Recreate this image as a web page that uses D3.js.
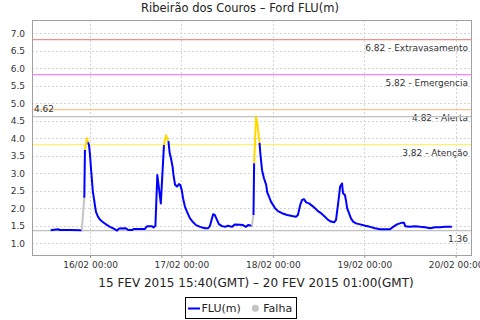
<!DOCTYPE html>
<html>
<head>
<meta charset="utf-8">
<script src="https://cdn.jsdelivr.net/npm/d3@7"></script>
<style>
  body { margin: 0; background: #fff; }
  svg { display: block; font-family: "DejaVu Sans", sans-serif; }
</style>
</head>
<body>
<div id="chart"></div>
<script>
// Leituras (hora local) e nivel FLU(m)
const times = [
  '15/02 13:40', '15/02 15:35', '15/02 16:05', '15/02 18:45', '15/02 21:50', '15/02 22:30',
  '15/02 22:40', '15/02 23:00', '15/02 23:10', '15/02 23:30', '15/02 23:45', '16/02 00:00',
  '16/02 00:15', '16/02 00:30', '16/02 00:45', '16/02 01:05', '16/02 01:20', '16/02 01:35',
  '16/02 02:05', '16/02 02:40', '16/02 03:25', '16/02 04:30', '16/02 05:15', '16/02 06:20',
  '16/02 07:05', '16/02 07:35', '16/02 09:25', '16/02 10:00', '16/02 11:00', '16/02 11:35',
  '16/02 14:25', '16/02 15:00', '16/02 16:15', '16/02 16:40', '16/02 17:10', '16/02 17:40',
  '16/02 18:35', '16/02 19:25', '16/02 19:40', '16/02 19:55', '16/02 20:35', '16/02 20:55',
  '16/02 21:15', '16/02 21:40', '16/02 21:55', '16/02 22:20', '16/02 22:50', '16/02 23:20',
  '16/02 23:40', '17/02 00:05', '17/02 00:25', '17/02 00:55', '17/02 01:30', '17/02 02:15',
  '17/02 03:05', '17/02 03:50', '17/02 04:55', '17/02 06:10', '17/02 07:00', '17/02 07:30',
  '17/02 07:55', '17/02 08:20', '17/02 08:45', '17/02 09:20', '17/02 09:50', '17/02 10:40',
  '17/02 11:25', '17/02 12:15', '17/02 13:15', '17/02 14:05', '17/02 15:25', '17/02 16:10',
  '17/02 16:55', '17/02 17:30', '17/02 18:30', '17/02 18:55', '17/02 19:05', '17/02 19:35',
  '17/02 20:00', '17/02 20:15', '17/02 20:30', '17/02 20:45', '17/02 21:10', '17/02 21:40',
  '17/02 22:15', '17/02 22:30', '17/02 23:00', '17/02 23:30', '18/02 00:05', '18/02 00:35',
  '18/02 01:20', '18/02 02:25', '18/02 03:45', '18/02 05:05', '18/02 06:05', '18/02 06:35',
  '18/02 07:10', '18/02 07:40', '18/02 08:10', '18/02 08:45', '18/02 09:30', '18/02 10:20',
  '18/02 11:05', '18/02 11:50', '18/02 12:40', '18/02 13:40', '18/02 14:30', '18/02 15:15',
  '18/02 16:05', '18/02 16:35', '18/02 17:05', '18/02 17:40', '18/02 18:10', '18/02 18:25',
  '18/02 18:55', '18/02 19:15', '18/02 19:30', '18/02 20:00', '18/02 20:30', '18/02 21:05',
  '18/02 21:50', '18/02 22:55', '19/02 00:15', '19/02 01:30', '19/02 02:50', '19/02 04:10',
  '19/02 06:45', '19/02 07:35', '19/02 08:35', '19/02 09:55', '19/02 10:25', '19/02 10:45',
  '19/02 12:00', '19/02 13:20', '19/02 14:40', '19/02 16:00', '19/02 17:15', '19/02 18:35',
  '19/02 19:55', '19/02 21:15', '19/02 23:00'
];
const values = [
  1.37, 1.40, 1.38, 1.38, 1.37, 2.30,
  3.67, 3.88, 4.00, 3.89, 3.79, 3.52,
  3.14, 2.81, 2.47, 2.24, 2.05, 1.89,
  1.76, 1.67, 1.60, 1.52, 1.47, 1.41,
  1.36, 1.42, 1.43, 1.38, 1.38, 1.41,
  1.41, 1.49, 1.49, 1.45, 1.50, 2.95,
  2.14, 3.81, 3.95, 4.09, 3.92, 3.57,
  3.43, 3.19, 2.95, 2.67, 2.62, 2.69,
  2.67, 2.52, 2.29, 2.05, 1.89, 1.71,
  1.60, 1.52, 1.47, 1.43, 1.43, 1.50,
  1.67, 1.83, 1.81, 1.67, 1.55, 1.49,
  1.47, 1.50, 1.47, 1.54, 1.53, 1.52,
  1.47, 1.52, 1.50, 1.81, 3.29, 4.62,
  4.38, 4.10, 3.87, 3.52, 3.09, 2.86,
  2.67, 2.46, 2.33, 2.19, 2.09, 2.00,
  1.92, 1.86, 1.81, 1.78, 1.76, 1.81,
  2.09, 2.24, 2.26, 2.17, 2.14, 2.07,
  2.00, 1.92, 1.86, 1.76, 1.67, 1.62,
  1.60, 1.67, 2.09, 2.62, 2.71, 2.43,
  2.38, 2.19, 2.00, 1.86, 1.71, 1.62,
  1.57, 1.54, 1.50, 1.47, 1.43, 1.40,
  1.40, 1.47, 1.54, 1.59, 1.59, 1.49,
  1.47, 1.49, 1.47, 1.46, 1.43, 1.46,
  1.46, 1.47, 1.47
];
// leituras que chegam apos uma falha (segmento cinza)
const falhas = ['15/02 22:30', '17/02 18:55'];

// cotas de referencia
const levelValues = [6.82, 5.82, 4.82, 3.82];
const levelNames = ['Extravasamento', 'Emergencia', 'Alerta', 'Atenção'];
const levelColors = ['#e88f8f', '#ff80ff', '#f8c48c', '#fff070'];

const yTicks = [1.0, 1.5, 2.0, 2.5, 3.0, 3.5, 4.0, 4.5, 5.0, 5.5, 6.0, 6.5, 7.0];
const xTicks = ['16/02 00:00', '17/02 00:00', '18/02 00:00', '19/02 00:00', '20/02 00:00'];

const title = 'Ribeirão dos Couros – Ford FLU(m)';
const xTitle = '15 FEV 2015 15:40(GMT) – 20 FEV 2015 01:00(GMT)';

const W = 480, H = 320;
const plot = { left: 32, right: 472, top: 20, bottom: 256 };

const parse = s => d3.utcParse('%Y/%d/%m %H:%M')('2015/' + s);

const data = times.map((t, i) => ({
  t: parse(t),
  v: values[i],
  falha: falhas.includes(t)
}));

const x = d3.scaleUtc()
  .domain([parse('15/02 08:46'), parse('20/02 04:17')])
  .range([plot.left, plot.right]);
const y = d3.scaleLinear()
  .domain([0.637, 7.38])
  .range([plot.bottom, plot.top]);

const svg = d3.select('#chart').append('svg')
  .attr('width', W)
  .attr('height', H);

svg.append('rect').attr('width', W).attr('height', H).attr('fill', '#fff');

// title
svg.append('text')
  .attr('x', 240).attr('y', 12)
  .attr('text-anchor', 'middle')
  .attr('font-size', 11.5)
  .attr('fill', '#222')
  .text(title);

// grid
const grid = svg.append('g').attr('stroke', '#d4d4d4').attr('stroke-dasharray', '2,2');
yTicks.forEach(v => {
  grid.append('line')
    .attr('x1', plot.left).attr('x2', plot.right)
    .attr('y1', Math.round(y(v)) + 0.5).attr('y2', Math.round(y(v)) + 0.5);
});
xTicks.forEach(s => {
  grid.append('line')
    .attr('y1', plot.top).attr('y2', plot.bottom)
    .attr('x1', Math.round(x(parse(s))) + 0.5).attr('x2', Math.round(x(parse(s))) + 0.5);
});

// axes
const yAxis = svg.append('g')
  .attr('transform', `translate(${plot.left},0)`)
  .call(d3.axisLeft(y).tickValues(yTicks).tickFormat(d3.format('.1f')).tickSize(0).tickPadding(7));
const xAxis = svg.append('g')
  .attr('transform', `translate(0,${plot.bottom})`)
  .call(d3.axisBottom(x).tickValues(xTicks.map(parse)).tickFormat(d3.utcFormat('%d/%m %H:%M')).tickSize(2).tickPadding(4));
[yAxis, xAxis].forEach(a => {
  a.select('.domain').remove();
  a.selectAll('line').attr('stroke', '#999');
  a.selectAll('text').attr('font-family', '"DejaVu Sans", sans-serif').attr('font-size', 9).attr('fill', '#333');
});

// plot border
svg.append('rect')
  .attr('x', plot.left + 0.5).attr('y', plot.top + 0.5)
  .attr('width', plot.right - plot.left - 1).attr('height', plot.bottom - plot.top - 1)
  .attr('fill', 'none').attr('stroke', '#a0a0a0');

// threshold lines
levelValues.forEach((v, i) => {
  svg.append('line')
    .attr('x1', plot.left + 1).attr('x2', plot.right - 1)
    .attr('y1', y(v)).attr('y2', y(v))
    .attr('stroke', levelColors[i]).attr('stroke-width', 1.3);
  svg.append('text')
    .attr('x', 468).attr('y', y(v) + 11.5)
    .attr('text-anchor', 'end')
    .attr('font-size', 9)
    .attr('fill', '#333')
    .text(`${v.toFixed(2)} - ${levelNames[i]}`);
});

// max / min lines
const vMax = d3.max(values), vMin = d3.min(values);
[vMax, vMin].forEach(v => {
  svg.append('line')
    .attr('x1', plot.left + 1).attr('x2', plot.right - 1)
    .attr('y1', y(v)).attr('y2', y(v))
    .attr('stroke', '#c0c0c0').attr('stroke-width', 1.3);
});
svg.append('text')
  .attr('x', 34).attr('y', y(vMax) - 4.3)
  .attr('font-size', 9).attr('fill', '#333')
  .text(vMax.toFixed(2));
svg.append('text')
  .attr('x', 468).attr('y', y(vMin) + 11.6)
  .attr('text-anchor', 'end')
  .attr('font-size', 9).attr('fill', '#333')
  .text(vMin.toFixed(2));

// series: segment colour follows the point it ends on
const segColor = d => d.falha ? '#c4c4c4' : (d.v >= levelValues[3] ? '#ffd800' : '#0000ff');
const line = d3.line().x(d => x(d.t)).y(d => y(d.v));
const runs = [];
for (let i = 1; i < data.length; i++) {
  const c = segColor(data[i]);
  const last = runs[runs.length - 1];
  if (last && last.color === c) last.pts.push(data[i]);
  else runs.push({ color: c, pts: [data[i - 1], data[i]] });
}
svg.append('g').selectAll('path')
  .data(runs)
  .join('path')
  .attr('d', r => line(r.pts))
  .attr('fill', 'none')
  .attr('stroke', r => r.color)
  .attr('stroke-width', 2)
  .attr('stroke-linejoin', 'round');

// x axis title
svg.append('text')
  .attr('x', 256).attr('y', 286.5)
  .attr('text-anchor', 'middle')
  .attr('font-size', 12)
  .attr('fill', '#222')
  .text(xTitle);

// legend
const lg = svg.append('g');
lg.append('rect')
  .attr('x', 185.5).attr('y', 297.5).attr('width', 111).attr('height', 21)
  .attr('fill', '#fff').attr('stroke', '#000');
lg.append('line')
  .attr('x1', 188).attr('x2', 200).attr('y1', 308.5).attr('y2', 308.5)
  .attr('stroke', '#0000ff').attr('stroke-width', 2);
lg.append('text')
  .attr('x', 201.5).attr('y', 312)
  .attr('font-size', 11).attr('fill', '#222')
  .text('FLU(m)');
lg.append('circle')
  .attr('cx', 255.3).attr('cy', 308.3).attr('r', 3.5)
  .attr('fill', '#c4c4c4');
lg.append('text')
  .attr('x', 263.3).attr('y', 312)
  .attr('font-size', 11).attr('fill', '#222')
  .text('Falha');
</script>
</body>
</html>
